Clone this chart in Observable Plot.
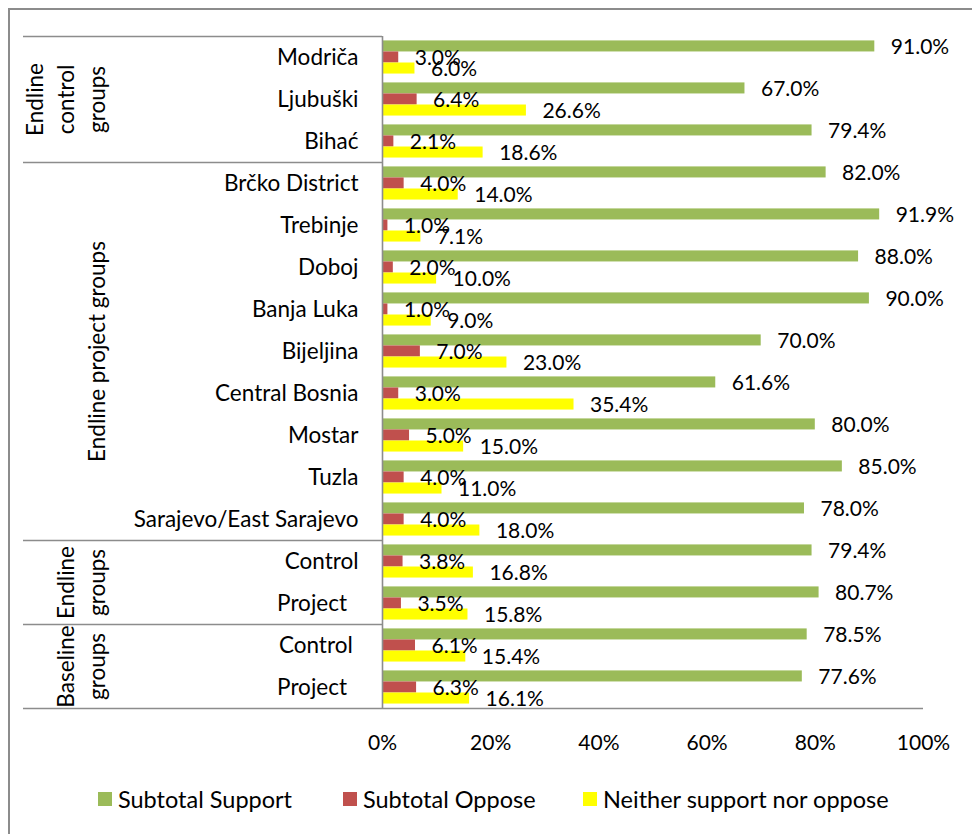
<!DOCTYPE html>
<html>
<head>
<meta charset="utf-8">
<script src="https://cdn.jsdelivr.net/npm/d3@7"></script>
<script src="https://cdn.jsdelivr.net/npm/@observablehq/plot@0.6"></script>
<style>
  html, body { margin: 0; padding: 0; background: #fff; }
  #wrap { position: relative; width: 972px; height: 834px; overflow: hidden; font-family: Lato, "Open Sans", sans-serif; }
  #chart { position: absolute; left: 0; top: 0; }
  #frame { position: absolute; left: 8px; top: 8px; width: 1000px; height: 900px;
           border-left: 2px solid #8c8c8c; border-top: 2px solid #8c8c8c; pointer-events: none; }
  #legend { position: absolute; left: 98px; top: 785px; display: flex; align-items: center;
            font-size: 23.5px; color: #000; white-space: nowrap; }
  .item { display: flex; align-items: center; flex: none; }
  .item.i0 { width: 245px; }
  .item.i1 { width: 240px; }
  .sw { width: 14px; height: 14px; margin-right: 6px; flex: none; }
</style>
</head>
<body>
<div id="wrap">
  <div id="chart"></div>
  <div id="legend"></div>
  <div id="frame"></div>
</div>
<script>
// ---- data ----
const categories = [
  "Modriča", "Ljubuški", "Bihać",
  "Brčko District", "Trebinje", "Doboj", "Banja Luka", "Bijeljina",
  "Central Bosnia", "Mostar", "Tuzla", "Sarajevo/East Sarajevo",
  "Control", "Project\u00a0\u00a0",
  "Control\u00a0", "Project\u00a0\u00a0"
];
const groupLabels = ["Endline\ncontrol\ngroups", "Endline project groups", "Endline\ngroups", "Baseline\ngroups"];
const groupOfCategory = [0, 0, 0, 1, 1, 1, 1, 1, 1, 1, 1, 1, 2, 2, 3, 3];

const support = [91.0, 67.0, 79.4, 82.0, 91.9, 88.0, 90.0, 70.0, 61.6, 80.0, 85.0, 78.0, 79.4, 80.7, 78.5, 77.6];
const oppose  = [3.0, 6.4, 2.1, 4.0, 1.0, 2.0, 1.0, 7.0, 3.0, 5.0, 4.0, 4.0, 3.8, 3.5, 6.1, 6.3];
const neither = [6.0, 26.6, 18.6, 14.0, 7.1, 10.0, 9.0, 23.0, 35.4, 15.0, 11.0, 18.0, 16.8, 15.8, 15.4, 16.1];

const seriesNames = ["Subtotal Support", "Subtotal Oppose", "Neither support nor oppose"];
const seriesColors = ["#9BBB59", "#C0504D", "#FFFF00"];
const xTicks = [0, 20, 40, 60, 80, 100];

// ---- derived tables ----
const seriesValues = [support, oppose, neither];
const bars = [];
categories.forEach((c, i) => {
  seriesValues.forEach((vals, s) => bars.push({row: i, s, name: seriesNames[s], v: vals[i]}));
});
const rows = categories.map((c, i) => ({row: i, label: c}));

const groups = groupLabels.map((label, g) => {
  const idx = groupOfCategory.map((gg, i) => gg === g ? i : -1).filter(i => i >= 0);
  return {label, start: d3.min(idx), end: d3.max(idx) + 1};
});
const boundaries = groups.map(g => g.start);   // top of each group
const lastRow = categories.length;

// layout constants (style/position, not data)
const W = 972, H = 775;
const mL = 382, mR = 49, mT = 36, mB = 67;
const pad = 0.105, th = 0.263;
const lineColor = "#8c8c8c";

const plot = Plot.plot({
  width: W, height: H,
  marginLeft: mL, marginRight: mR, marginTop: mT, marginBottom: mB,
  style: {fontFamily: "Lato, 'Open Sans', sans-serif", fontSize: "21px", color: "#000", background: "transparent", overflow: "visible"},
  x: {domain: [0, 100], ticks: xTicks, tickFormat: d => d + "%", tickSize: 0, tickPadding: 27, label: null},
  y: {domain: [0, lastRow], reverse: true, axis: null},
  color: {domain: seriesNames, range: seriesColors},
  marks: [
    Plot.rectX(bars, {
      x1: 0, x2: "v",
      y1: d => d.row + pad + d.s * th,
      y2: d => d.row + pad + (d.s + 1) * th,
      fill: "name"
    }),
    Plot.text(bars, {
      x: "v",
      y: d => d.row + pad + (d.s + 0.5) * th,
      text: d => d.v.toFixed(1) + "%",
      textAnchor: "start", dx: 16, dy: 1, fill: "#000"
    }),
    // category labels
    Plot.text(rows, {
      y: d => d.row + 0.5, frameAnchor: "left", text: "label",
      textAnchor: "end", dx: -24, fill: "#000", fontSize: 22.5
    }),
    // group labels (rotated)
    Plot.text(groups, {
      y: d => (d.start + d.end) / 2, frameAnchor: "left", text: "label",
      rotate: -90, textAnchor: "middle", lineAnchor: "bottom", lineHeight: 1.36,
      dx: -278, fill: "#000", fontSize: 22.5
    }),
    // category-table separators
    Plot.ruleY(boundaries, {stroke: lineColor, strokeWidth: 1.6, insetLeft: -(mL - 23), insetRight: W - mL - mR}),
    Plot.ruleY([lastRow], {stroke: lineColor, strokeWidth: 1.6, insetLeft: -(mL - 23)}),
    Plot.ruleX([0], {stroke: lineColor, strokeWidth: 1.6})
  ]
});
document.getElementById("chart").appendChild(plot);

// legend
const legend = document.getElementById("legend");
seriesNames.forEach((name, i) => {
  const item = document.createElement("div");
  item.className = "item i" + i;
  const sw = document.createElement("div");
  sw.className = "sw";
  sw.style.background = seriesColors[i];
  const t = document.createElement("span");
  t.textContent = name;
  item.appendChild(sw); item.appendChild(t);
  legend.appendChild(item);
});
</script>
</body>
</html>
